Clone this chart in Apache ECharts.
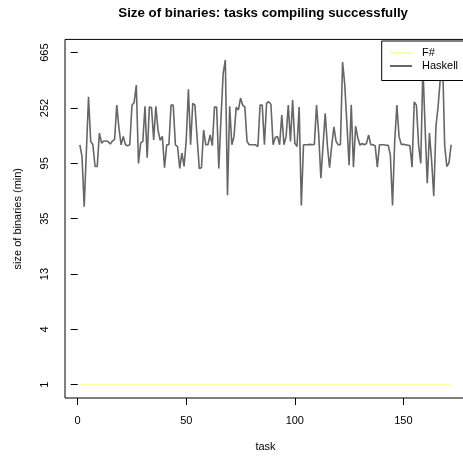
<!DOCTYPE html>
<html>
<head>
<meta charset="utf-8">
<script src="https://cdn.jsdelivr.net/npm/echarts@6/dist/echarts.min.js"></script>
<style>
html,body{margin:0;padding:0;background:#fff;}
#chart{width:463px;height:459px;}
</style>
</head>
<body>
<div id="chart"></div>
<script>
// ---- data ----
const seriesNames = ['F#', 'Haskell'];
const haskell = [
  132,107,44,117,307,140,132,90,90,162,
  136,141,141,140,134,141,145,265,177,132,
  153,132,130,132,265,278,377,95,136,140,
  260,105,256,254,144,260,171,143,153,88,
  132,132,265,265,132,128,87,114,90,144,
  350,132,274,265,150,87,88,171,132,132,
  157,130,256,256,87,210,460,586,54,260,
  132,153,256,243,300,265,256,140,132,132,
  132,132,128,265,265,132,274,282,268,132,
  150,153,132,223,132,153,265,140,290,136,
  128,256,45,132,132,132,133,132,133,265,
  160,73,130,230,130,88,130,181,140,132,
  132,565,380,190,92,267,89,183,150,131,
  135,132,135,157,132,132,130,89,132,132,
  132,131,131,110,45,140,265,153,133,133,
  132,131,130,89,280,265,132,95,520,180,
  67,162,100,53,183,260,420,665,132,90,
  96,132
];
const fsharp = [
  1,1,1,1,1,1,1,1,1,1, 1,1,1,1,1,1,1,1,1,1,
  1,1,1,1,1,1,1,1,1,1, 1,1,1,1,1,1,1,1,1,1,
  1,1,1,1,1,1,1,1,1,1, 1,1,1,1,1,1,1,1,1,1,
  1,1,1,1,1,1,1,1,1,1, 1,1,1,1,1,1,1,1,1,1,
  1,1,1,1,1,1,1,1,1,1, 1,1,1,1,1,1,1,1,1,1,
  1,1,1,1,1,1,1,1,1,1, 1,1,1,1,1,1,1,1,1,1,
  1,1,1,1,1,1,1,1,1,1, 1,1,1,1,1,1,1,1,1,1,
  1,1,1,1,1,1,1,1,1,1, 1,1,1,1,1,1,1,1,1,1,
  1,1,1,1,1,1,1,1,1,1, 1,1
];
const xTickValues = [0, 50, 100, 150];
const yTickLabels = ['1', '4', '13', '35', '95', '252', '665'];

// ---- scale helpers (y drawn on log(v+1) scale like the original) ----
const tr = v => Math.log(v + 1);
const allVals = haskell.concat(fsharp);
const lo = tr(Math.min.apply(null, allVals));
const hi = tr(Math.max.apply(null, allVals));
const yTickPos = yTickLabels.map((_, k) => lo + k * (hi - lo) / (yTickLabels.length - 1));
const yPad = 0.04 * (hi - lo);
const nTask = haskell.length;
const xPad = 0.04 * (nTask - 1);

function toPoints(arr) { return arr.map((v, i) => [i + 1, tr(v)]); }

const FONT = 'Liberation Sans, Arial, Helvetica, sans-serif';
const chart = echarts.init(document.getElementById('chart'), null, {renderer: 'canvas'});
chart.setOption({
  animation: false,
  backgroundColor: '#ffffff',
  title: {
    text: 'Size of binaries: tasks compiling successfully',
    left: 118.3, top: 6.6, padding: 0,
    textStyle: {fontFamily: FONT, fontSize: 13.3, fontWeight: 'bold', color: '#000'}
  },
  grid: {
    left: 65, top: 39.4, width: 401, height: 358.6,
    show: true, borderColor: '#000', borderWidth: 1, backgroundColor: 'transparent',
    containLabel: false, outerBoundsMode: 'none'
  },
  legend: {
    data: seriesNames,
    orient: 'vertical',
    left: 381.7, top: 41,
    padding: [5.5, 6, 8, 8.3],
    itemGap: 0,
    itemWidth: 22, itemHeight: 2,
    icon: 'rect',
    backgroundColor: '#fff',
    borderColor: '#000', borderWidth: 1, borderRadius: 0,
    textStyle: {fontFamily: FONT, fontSize: 11, color: '#000', lineHeight: 13, padding: [0, 0, 0, 5]}
  },
  xAxis: {
    type: 'value',
    min: 1 - xPad, max: nTask + xPad,
    name: 'task', nameLocation: 'middle', nameGap: 43.5,
    nameTextStyle: {fontFamily: FONT, fontSize: 11, color: '#000'},
    axisLine: {show: false},
    axisTick: {show: true, inside: false, length: 7, lineStyle: {color: '#000', width: 1}, customValues: xTickValues},
    axisLabel: {show: true, margin: 17, fontFamily: FONT, fontSize: 11, color: '#000', customValues: xTickValues},
    splitLine: {show: false}
  },
  yAxis: {
    type: 'value',
    min: lo - yPad, max: hi + yPad,
    name: 'size of binaries (min)', nameLocation: 'middle', nameGap: 41.5,
    nameTextStyle: {fontFamily: FONT, fontSize: 11, color: '#000'},
    axisLine: {show: false},
    axisTick: {show: true, inside: false, length: 7, lineStyle: {color: '#000', width: 1}, customValues: yTickPos},
    axisLabel: {
      show: true, margin: 15, rotate: 90, fontFamily: FONT, fontSize: 11, color: '#000',
      customValues: yTickPos,
      formatter: function (val) {
        let best = 0, bd = Infinity;
        yTickPos.forEach((p, k) => { const d = Math.abs(p - val); if (d < bd) { bd = d; best = k; } });
        return yTickLabels[best];
      }
    },
    splitLine: {show: false}
  },
  series: [
    {
      name: seriesNames[0], type: 'line', data: toPoints(fsharp),
      showSymbol: false, symbol: 'none', color: '#ffffa0',
      lineStyle: {color: '#ffffa0', width: 1.2}
    },
    {
      name: seriesNames[1], type: 'line', data: toPoints(haskell),
      showSymbol: false, symbol: 'none', color: '#666666',
      lineStyle: {color: '#666666', width: 1.6}
    }
  ]
});
</script>
</body>
</html>
